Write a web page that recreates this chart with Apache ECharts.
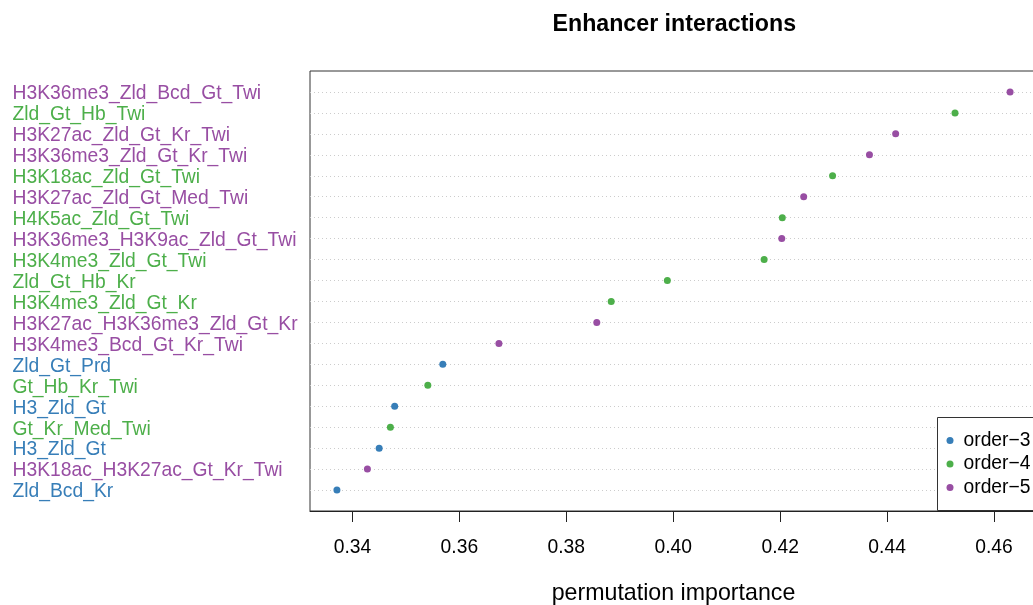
<!DOCTYPE html>
<html>
<head>
<meta charset="utf-8">
<script src="https://cdn.jsdelivr.net/npm/echarts@6/dist/echarts.min.js"></script>
<style>
html,body{margin:0;padding:0;background:#fff;overflow:hidden;}
#chart{width:1033px;height:605px;}
</style>
</head>
<body>
<div id="chart"></div>
<script>
const categories = ["H3K36me3_Zld_Bcd_Gt_Twi","Zld_Gt_Hb_Twi","H3K27ac_Zld_Gt_Kr_Twi","H3K36me3_Zld_Gt_Kr_Twi","H3K18ac_Zld_Gt_Twi","H3K27ac_Zld_Gt_Med_Twi","H4K5ac_Zld_Gt_Twi","H3K36me3_H3K9ac_Zld_Gt_Twi","H3K4me3_Zld_Gt_Twi","Zld_Gt_Hb_Kr","H3K4me3_Zld_Gt_Kr","H3K27ac_H3K36me3_Zld_Gt_Kr","H3K4me3_Bcd_Gt_Kr_Twi","Zld_Gt_Prd","Gt_Hb_Kr_Twi","H3_Zld_Gt","Gt_Kr_Med_Twi","H3_Zld_Gt","H3K18ac_H3K27ac_Gt_Kr_Twi","Zld_Bcd_Kr"];
const values = [0.4630,0.4527,0.4416,0.4367,0.4298,0.4244,0.4204,0.4203,0.4170,0.3989,0.3884,0.3857,0.3674,0.3569,0.3541,0.3479,0.3471,0.3450,0.3428,0.3371];
const orders = [5,4,5,5,4,5,4,5,4,4,4,5,5,3,4,3,4,3,5,3];
const orderLevels = [3,4,5];
const orderNames = ["order\u22123","order\u22124","order\u22125"];
const orderColors = ["#377EB8","#4DAF4A","#984EA3"];
const xTicks = [0.34,0.36,0.38,0.40,0.42,0.44,0.46];

const FONT = "'Liberation Sans', Arial, Helvetica, sans-serif";
const n = categories.length;
const vmin = Math.min(...values), vmax = Math.max(...values);
const pad = 0.04 * (vmax - vmin);

const rowPos = categories.map((c, i) => n - i); // top row = n
const rich = {};
orderLevels.forEach((o, k) => {
  rich['o' + o] = {color: orderColors[k], fontSize: 19.3, fontFamily: FONT, padding: [4, 0, 0, 0]};
});

const series = orderLevels.map((o, k) => ({
  name: orderNames[k],
  type: 'scatter',
  symbol: 'circle',
  symbolSize: 7,
  itemStyle: {color: orderColors[k], opacity: 1},
  data: values.map((v, i) => orders[i] === o ? [v, rowPos[i]] : null).filter(d => d !== null),
  silent: true
}));

const chart = echarts.init(document.getElementById('chart'), null, {renderer: 'canvas'});
chart.setOption({
  animation: false,
  backgroundColor: '#fff',
  title: {
    text: 'Enhancer interactions',
    left: 552.5, top: 13, padding: 0,
    textStyle: {fontFamily: FONT, fontSize: 23.2, fontWeight: 'bold', color: '#000'}
  },
  grid: {
    left: 310, top: 71, width: 727, height: 440,
    show: true, borderColor: '#333', borderWidth: 1, backgroundColor: 'transparent',
    containLabel: false,
    outerBoundsMode: 'none'
  },
  graphic: [{
    type: 'rect', z: 5,
    shape: {x: 937.5, y: 417.5, width: 110, height: 93},
    style: {fill: '#fff', stroke: '#333', lineWidth: 1}
  }],
  legend: {
    orient: 'vertical',
    left: 937, top: 417,
    padding: [11.6, 14, 10.3, 9.5],
    z: 10,
    itemWidth: 7, itemHeight: 7, itemGap: 0,
    icon: 'circle',
    textStyle: {fontFamily: FONT, fontSize: 19.3, lineHeight: 23.6, color: '#000', padding: [0, 0, 0, 5]},
    data: orderNames,
    selectedMode: false
  },
  xAxis: {
    type: 'value',
    min: vmin - pad, max: vmax + pad,
    name: 'permutation importance',
    nameLocation: 'middle', nameGap: 71.5,
    nameTextStyle: {fontFamily: FONT, fontSize: 23.2, color: '#000'},
    axisLine: {show: true, lineStyle: {color: '#222', width: 1}},
    axisTick: {show: true, length: 11, lineStyle: {color: '#222', width: 1}, customValues: xTicks},
    axisLabel: {show: true, margin: 27, fontFamily: FONT, fontSize: 19.3, color: '#000',
      customValues: xTicks, formatter: v => v.toFixed(2)},
    splitLine: {show: false}
  },
  yAxis: {
    type: 'value',
    min: 0, max: n + 1, interval: 1,
    axisLine: {show: false},
    axisTick: {show: false},
    axisLabel: {
      show: true, align: 'left', margin: 297.5,
      customValues: rowPos,
      formatter: function (v) {
        const i = n - Math.round(v);
        if (i < 0 || i >= n) return '';
        return '{o' + orders[i] + '|' + categories[i] + '}';
      },
      rich: rich
    },
    splitLine: {show: true, showMinLine: false, showMaxLine: false,
      lineStyle: {color: '#cccccc', type: [1, 3], width: 1}}
  },
  series: series
});
</script>
</body>
</html>
